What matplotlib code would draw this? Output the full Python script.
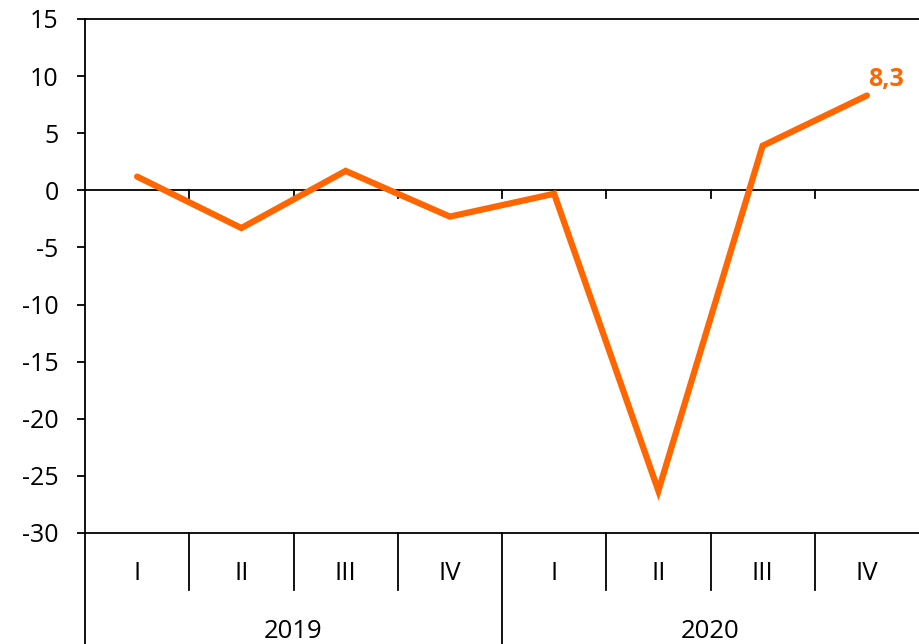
import matplotlib
matplotlib.use("Agg")
import matplotlib.pyplot as plt
import matplotlib.transforms as mtransforms

quarters = ["I", "II", "III", "IV", "I", "II", "III", "IV"]
years = ["2019", "2020"]
values = [1.2, -3.3, 1.7, -2.3, -0.3, -26.3, 3.9, 8.3]
last_label = "8,3"
yticks = [15, 10, 5, 0, -5, -10, -15, -20, -25, -30]

plt.rcParams['font.family'] = ['Open Sans', 'DejaVu Sans']
color = "#FF6600"

fig = plt.figure(figsize=(9.19, 6.44), dpi=100)
ax = fig.add_axes([85/919, 1-533/644, 1-85/919, (533-19)/644])

n = len(values)
x = list(range(n))
ax.plot(x, values, color=color, lw=4.5, solid_capstyle='round', solid_joinstyle='miter', zorder=3)
ax.annotate(last_label, xy=(x[-1], values[-1]), xytext=(14, 2.5), textcoords='offset points',
            color=color, fontsize=18, fontweight='bold', ha='center', va='bottom')

ax.set_xlim(-0.5, n-0.5)
ax.set_ylim(-30, 15)
ax.set_yticks(yticks)
ax.set_yticklabels([str(v) for v in yticks])
ax.tick_params(axis='y', length=6, width=1.3, direction='out', labelsize=18, pad=13)
ax.set_xticks([])

ax.spines['right'].set_visible(False)
for s in ['left', 'bottom', 'top']:
    ax.spines[s].set_linewidth(1.3)

# zero line with ticks
ax.axhline(0, color='black', lw=1.3, zorder=2)
for b in range(1, n):
    ax.plot([b-0.5, b-0.5], [0, -0.65], color='black', lw=1.3, zorder=2, clip_on=False)

# category axis below
trans = mtransforms.blended_transform_factory(ax.transData, ax.transAxes)
q_depth = -(590-533)/514
y_depth = -(644-533)/514
for b in range(1, n):
    depth = y_depth if b % 4 == 0 else q_depth
    ax.plot([b-0.5, b-0.5], [0, depth], color='black', lw=1.3, transform=trans, clip_on=False)
ax.plot([-0.5, -0.5], [0, y_depth], color='black', lw=1.3, transform=trans, clip_on=False)

for i, q in enumerate(quarters):
    ax.text(i, -(573-533)/514, q, transform=trans, ha='center', va='center', fontsize=18.5)
for j, yr in enumerate(years):
    ax.text(j*4 + 1.5, -(631-533)/514, yr, transform=trans, ha='center', va='center', fontsize=18.5)

fig.savefig("out.png", dpi=100)
